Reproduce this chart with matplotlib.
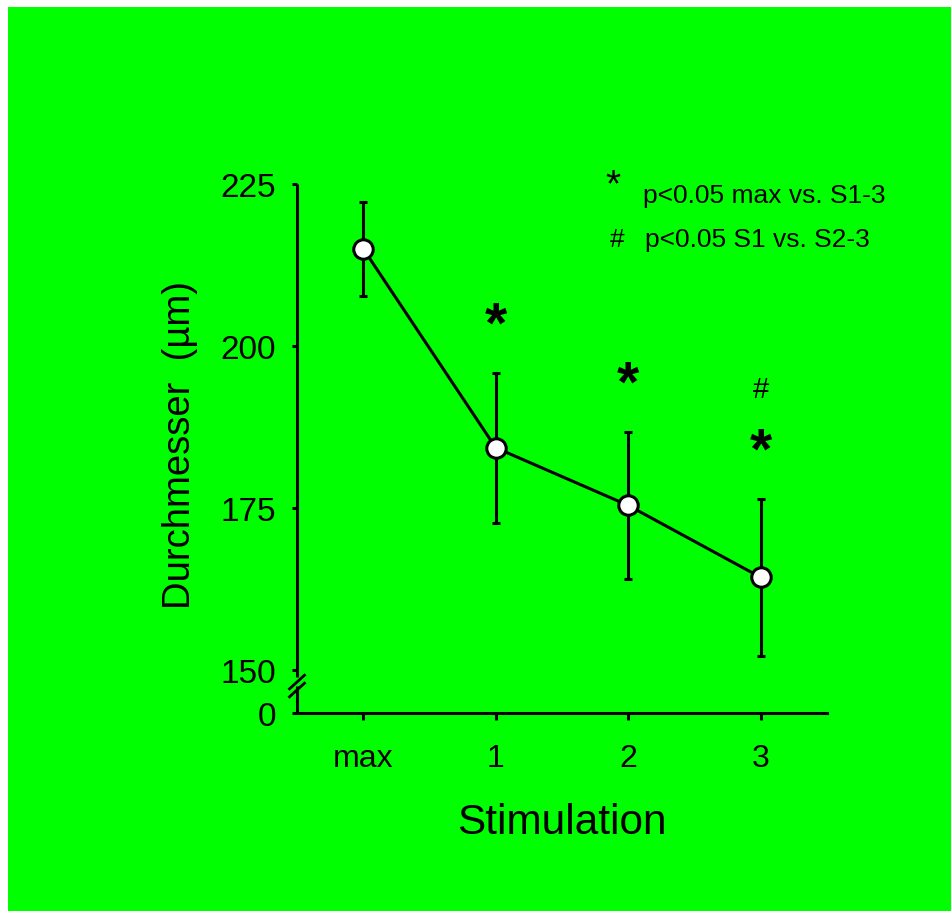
import matplotlib
matplotlib.use('Agg')
import matplotlib.pyplot as plt
from matplotlib.patches import Rectangle
from matplotlib.lines import Line2D

# data
labels = ['max', '1', '2', '3']
means = [215.0, 184.3, 175.4, 164.3]
errors = [7.25, 11.6, 11.35, 12.1]
star_idx = [1, 2, 3]      # * p<0.05 max vs. S1-3
hash_idx = [3]            # # p<0.05 S1 vs. S2-3

plt.rcParams['font.family'] = ['Liberation Sans', 'DejaVu Sans']

W, H = 951, 912
fig = plt.figure(figsize=(W / 100, H / 100), dpi=100)
fig.patch.set_facecolor('white')
fig.patches.append(Rectangle((8 / W, 0), 1, 1 - 8 / H, transform=fig.transFigure,
                             facecolor='#00ff00', edgecolor='none', zorder=-10))

ax = fig.add_axes([297 / W, 1 - 714 / H, (827 - 297) / W, (714 - 185) / H])
ax.set_facecolor('none')

y0 = 143.37   # position of the "0" below the axis break
ax.set_xlim(-0.5, 3.5)
ax.set_ylim(y0, 225)

x = list(range(len(labels)))
ax.errorbar(x, means, yerr=errors, color='black', lw=2.2, elinewidth=2.2,
            capsize=3, capthick=2.2, marker='o', markersize=14,
            markerfacecolor='white', markeredgecolor='black',
            markeredgewidth=2.2, zorder=3, clip_on=False)

for i in star_idx:
    ax.text(x[i], means[i] + errors[i] + 4.8, '*', ha='center', va='baseline',
            fontsize=41, fontweight='bold')
for i in hash_idx:
    ax.text(x[i], means[i] + errors[i] + 15.8, '#', ha='center', va='baseline',
            fontsize=21)

# axes styling
for s in ['top', 'right', 'left']:
    ax.spines[s].set_visible(False)
ax.spines['bottom'].set_linewidth(2.2)

ax.set_xticks(x)
ax.set_xticklabels(labels, fontsize=23)
ax.set_yticks([y0, 150, 175, 200, 225])
ax.set_yticklabels(['0', '150', '175', '200', '225'], fontsize=24)
ax.tick_params(axis='x', length=5, width=2.2, pad=16.5)
ax.tick_params(axis='y', length=3.6, width=2.2, pad=11.5)

# left spine with break
tr = ax.get_yaxis_transform()
ax.add_line(Line2D([0, 0], [148.9, 225], transform=tr, color='black', lw=2.2,
                   clip_on=False, solid_capstyle='butt'))
ax.add_line(Line2D([0, 0], [y0, 147.5], transform=tr, color='black', lw=2.2,
                   clip_on=False, solid_capstyle='butt'))
dx = 7.5 / 530
for yc in [148.15, 146.92]:
    ax.add_line(Line2D([-dx, dx], [yc - 1.05, yc + 1.05], transform=tr,
                       color='black', lw=2.0, clip_on=False))

ax.set_ylabel('Durchmesser  (µm)', fontsize=27.5, labelpad=16)
ax.yaxis.label.set_y(0.509)
ax.set_xlabel('Stimulation', fontsize=30.5, labelpad=21)

# legend text
fig.text(613 / W, 1 - 196 / H, '*', ha='center', va='baseline', fontsize=28)
fig.text(643 / W, 1 - 203 / H, 'p<0.05 max vs. S1-3', ha='left', va='baseline', fontsize=19)
fig.text(617 / W, 1 - 247 / H, '#', ha='center', va='baseline', fontsize=19)
fig.text(645 / W, 1 - 247 / H, 'p<0.05 S1 vs. S2-3', ha='left', va='baseline', fontsize=19)

fig.savefig('out.png', dpi=100, facecolor=fig.get_facecolor())
